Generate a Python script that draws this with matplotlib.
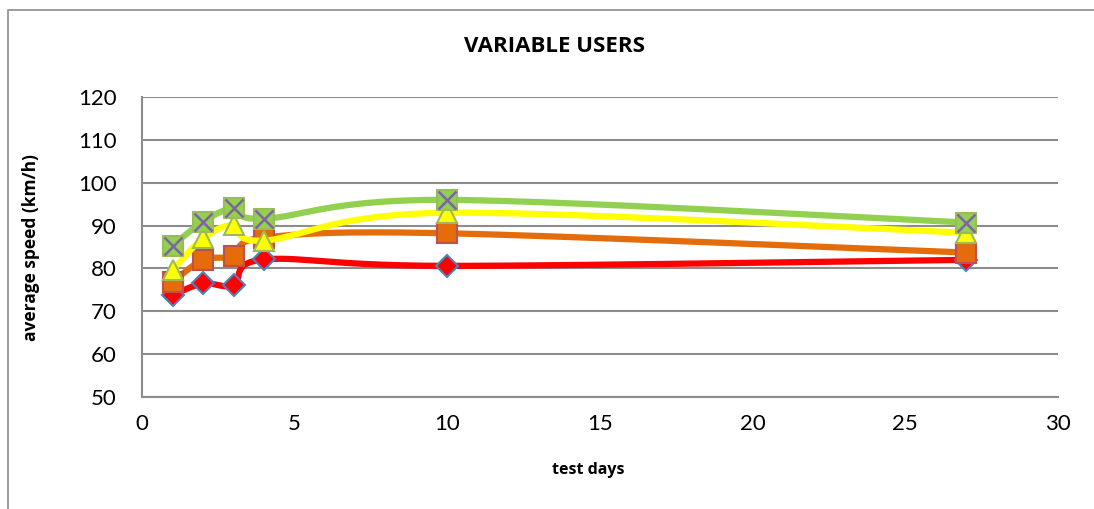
import numpy as np
import matplotlib.pyplot as plt
from matplotlib.patches import Rectangle

plt.rcParams['font.family'] = ['Lato', 'DejaVu Sans']

# data
days = [1, 2, 3, 4, 10, 27]
red = [73.8, 76.5, 76.1, 82.1, 80.6, 82.0]
orange = [76.9, 82.0, 82.9, 87.2, 88.2, 83.7]
yellow = [79.6, 87.0, 90.1, 86.5, 93.0, 88.3]
green = [85.3, 90.9, 94.0, 91.6, 96.0, 90.7]

xmin, xmax = 0, 30
ymin, ymax = 50, 120


def smooth(x, y, sx, sy, n=40):
    # excel-like smoothed line: bezier with control points at 1/6 of neighbours,
    # done in screen-scaled units
    p = np.column_stack([np.asarray(x) * sx, np.asarray(y) * sy])
    out = [p[0]]
    for i in range(len(p) - 1):
        p0 = p[i - 1] if i > 0 else p[i]
        p3 = p[i + 2] if i + 2 < len(p) else p[i + 1]
        c1 = p[i] + (p[i + 1] - p0) / 6
        c2 = p[i + 1] - (p3 - p[i]) / 6
        t = np.linspace(0, 1, n)[1:, None]
        seg = ((1 - t) ** 3 * p[i] + 3 * (1 - t) ** 2 * t * c1
               + 3 * (1 - t) * t ** 2 * c2 + t ** 3 * p[i + 1])
        out.extend(seg)
    out = np.array(out)
    return out[:, 0] / sx, out[:, 1] / sy


fig = plt.figure(figsize=(10.94, 5.09), dpi=100)
ax = fig.add_axes([142 / 1094, 1 - 397 / 509, (1058 - 142) / 1094, 300 / 509])

# outer chart border (only top and left visible in the crop)
fig.patches.append(Rectangle((8 / 1094, -0.1), 1.2, 1 - 10 / 509 + 0.1,
                             transform=fig.transFigure, fill=False,
                             edgecolor='#8c8c8c', lw=1.2))

sx = 916 / (xmax - xmin)
sy = 300 / (ymax - ymin)

series = [
    (red, '#ff0000', 'D', '#ff0000', '#4f81bd', 11),
    (orange, '#e46c0a', 's', '#e46c0a', '#c0504d', 14),
    (yellow, '#ffff00', '^', '#ffff00', '#9bbb59', 14),
    (green, '#92d050', 's', '#92d050', '#9bbb59', 15),
]
for i, (vals, lc, mk, mf, me, ms) in enumerate(series):
    xs, ys = smooth(days, vals, sx, sy)
    ax.plot(xs, ys, color=lc, lw=4.5, zorder=3 + i, solid_capstyle='round')
    ax.plot(days, vals, ls='none', marker=mk, ms=ms, mfc=mf, mec=me,
            mew=1.5, zorder=3 + i)
# purple crosses on the green squares
ax.plot(days, green, ls='none', marker='x', ms=13, mec='#8064a2', mew=1.8,
        zorder=7)

ax.set_xlim(xmin, xmax)
ax.set_ylim(ymin, ymax)
ax.set_xticks(np.arange(0, 31, 5))
ax.set_yticks(np.arange(50, 121, 10))
ax.grid(axis='y', color='#8c8c8c', lw=1.5)
ax.set_axisbelow(True)
for s in ['top', 'right']:
    ax.spines[s].set_visible(False)
for s in ['left', 'bottom']:
    ax.spines[s].set_color('#8c8c8c')
    ax.spines[s].set_linewidth(1.5)
ax.tick_params(length=0, labelsize=16, pad=12)
ax.tick_params(axis='y', pad=18)

bold = ['Open Sans', 'DejaVu Sans']
fig.text(555 / 1094, 1 - 47 / 509, 'VARIABLE USERS', fontsize=16,
         fontweight='bold', family=bold, ha='center', va='center')
fig.text(588 / 1094, 1 - 470 / 509, 'test days', fontsize=11.5,
         fontweight='bold', family=bold, ha='center', va='center')
fig.text(31 / 1094, 1 - 247 / 509, 'average speed (km/h)', fontsize=12.5,
         fontweight='bold', family=bold, ha='center', va='center',
         rotation=90)

fig.savefig('out.png', dpi=100)
